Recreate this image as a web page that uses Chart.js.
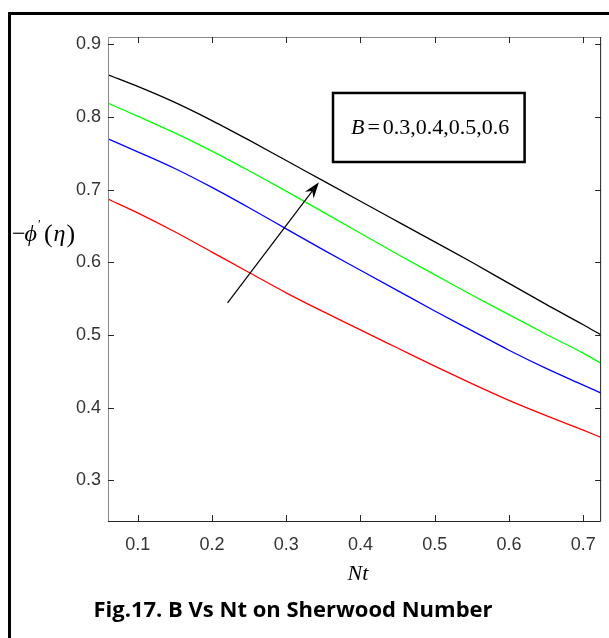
<!DOCTYPE html>
<html>
<head>
<meta charset="utf-8">
<script src="https://cdn.jsdelivr.net/npm/chart.js@4/dist/chart.umd.min.js"></script>
<style>
  html, body { margin: 0; padding: 0; background: #fff; }
  #wrap { width: 609px; height: 638px; }
</style>
</head>
<body>
<div id="wrap"><canvas id="sherwoodChart" width="609" height="638"></canvas></div>
<script>
// Nt values along the x axis
const ntValues = [0.06, 0.1, 0.15, 0.2, 0.25, 0.3, 0.35, 0.4, 0.45, 0.5, 0.55, 0.6, 0.65, 0.7, 0.724];

// -phi'(eta) for B = 0.3, 0.4, 0.5, 0.6
const seriesB03 = [0.687, 0.668, 0.642, 0.614, 0.586, 0.558, 0.532, 0.507, 0.482, 0.457, 0.433, 0.410, 0.389, 0.369, 0.359];
const seriesB04 = [0.770, 0.752, 0.729, 0.703, 0.675, 0.646, 0.617, 0.589, 0.561, 0.533, 0.506, 0.479, 0.454, 0.431, 0.420];
const seriesB05 = [0.819, 0.801, 0.778, 0.753, 0.726, 0.698, 0.669, 0.640, 0.611, 0.583, 0.555, 0.528, 0.501, 0.475, 0.461];
const seriesB06 = [0.858, 0.842, 0.820, 0.795, 0.768, 0.740, 0.712, 0.684, 0.656, 0.628, 0.600, 0.571, 0.542, 0.514, 0.500];

const seriesNames = ['B = 0.3', 'B = 0.4', 'B = 0.5', 'B = 0.6'];
const seriesColors = ['#ff0000', '#0000ff', '#00ff00', '#000000'];

const xTicks = [0.1, 0.2, 0.3, 0.4, 0.5, 0.6, 0.7];
const yTicks = [0.3, 0.4, 0.5, 0.6, 0.7, 0.8, 0.9];

function toPoints(ys) {
    return ntValues.map((x, i) => ({ x: x, y: ys[i] }));
}

const allSeries = [seriesB03, seriesB04, seriesB05, seriesB06];

// box, inward ticks, annotation box, arrow, labels, caption, frame
const decorations = {
    id: 'decorations',
    afterDatasetsDraw(chart) {
        const c = chart.ctx;
        const a = chart.chartArea;
        const xs = chart.scales.x;
        const ys = chart.scales.y;
        c.save();

        // axes box
        c.lineWidth = 1;
        c.strokeStyle = '#8a8a8a';
        c.beginPath();
        c.moveTo(a.left + 0.5, a.bottom);
        c.lineTo(a.left + 0.5, a.top + 0.5);
        c.lineTo(a.right, a.top + 0.5);
        c.stroke();
        c.strokeStyle = '#262626';
        c.beginPath();
        c.moveTo(a.left, a.bottom + 0.5);
        c.lineTo(a.right - 0.5, a.bottom + 0.5);
        c.lineTo(a.right - 0.5, a.top);
        c.stroke();

        // inward ticks
        c.strokeStyle = '#262626';
        c.beginPath();
        xTicks.forEach(v => {
            const px = Math.round(xs.getPixelForValue(v)) + 0.5;
            c.moveTo(px, a.bottom);
            c.lineTo(px, a.bottom - 6);
            c.moveTo(px, a.top);
            c.lineTo(px, a.top + 6);
        });
        yTicks.forEach(v => {
            const py = Math.round(ys.getPixelForValue(v)) + 0.5;
            c.moveTo(a.left, py);
            c.lineTo(a.left + 6, py);
            c.moveTo(a.right, py);
            c.lineTo(a.right - 6, py);
        });
        c.stroke();

        const serif = '"Liberation Serif", "Times New Roman", serif';

        // annotation box
        const bx1 = xs.getPixelForValue(0.363), bx2 = xs.getPixelForValue(0.621);
        const by1 = ys.getPixelForValue(0.833), by2 = ys.getPixelForValue(0.738);
        c.fillStyle = '#fff';
        c.fillRect(bx1, by1, bx2 - bx1, by2 - by1);
        c.lineWidth = 2.5;
        c.strokeStyle = '#000';
        c.strokeRect(bx1, by1, bx2 - bx1, by2 - by1);

        c.fillStyle = '#000';
        c.textBaseline = 'middle';
        c.textAlign = 'left';
        let tx = bx1 + 18;
        const ty = (by1 + by2) / 2 + 1;
        c.font = 'italic 22px ' + serif;
        c.fillText('B', tx, ty);
        tx += c.measureText('B').width + 3;
        c.font = '22px ' + serif;
        c.fillText('=', tx, ty);
        tx += c.measureText('=').width + 3;
        c.fillText('0.3,0.4,0.5,0.6', tx, ty);

        // arrow
        const ax1 = xs.getPixelForValue(0.221), ay1 = ys.getPixelForValue(0.544);
        const ax2 = xs.getPixelForValue(0.344), ay2 = ys.getPixelForValue(0.710);
        const ang = Math.atan2(ay2 - ay1, ax2 - ax1);
        c.lineWidth = 1.2;
        c.beginPath();
        c.moveTo(ax1, ay1);
        c.lineTo(ax2 - 8 * Math.cos(ang), ay2 - 8 * Math.sin(ang));
        c.stroke();
        c.beginPath();
        c.moveTo(ax2, ay2);
        c.lineTo(ax2 - 16 * Math.cos(ang) + 5.5 * Math.sin(ang), ay2 - 16 * Math.sin(ang) - 5.5 * Math.cos(ang));
        c.lineTo(ax2 - 11 * Math.cos(ang), ay2 - 11 * Math.sin(ang));
        c.lineTo(ax2 - 16 * Math.cos(ang) - 5.5 * Math.sin(ang), ay2 - 16 * Math.sin(ang) + 5.5 * Math.cos(ang));
        c.closePath();
        c.fill();

        // y label  -phi'(eta)
        let lx = 12;
        const ly = 235;
        c.font = '24px ' + serif;
        c.fillText('\u2212', lx, ly);
        lx += c.measureText('\u2212').width - 1;
        c.font = 'italic 24px ' + serif;
        c.fillText('\u03d5', lx, ly);
        lx += c.measureText('\u03d5').width + 1;
        c.font = '13px ' + serif;
        c.fillText('\u2032', lx, ly - 10);
        lx += 6;
        c.font = '26px ' + serif;
        c.fillText('(', lx, ly);
        lx += c.measureText('(').width + 1;
        c.font = 'italic 24px ' + serif;
        c.fillText('\u03b7', lx, ly);
        lx += c.measureText('\u03b7').width + 1;
        c.font = '26px ' + serif;
        c.fillText(')', lx, ly);

        // x label
        c.textAlign = 'center';
        c.font = 'italic 22px ' + serif;
        c.fillText('Nt', 358, 574);

        // caption
        c.font = 'bold 22px "Open Sans", "Liberation Sans", sans-serif';
        c.fillText('Fig.17. B Vs Nt on Sherwood Number', 293, 611);

        // outer frame
        c.fillStyle = '#000';
        c.fillRect(8, 12, 601, 3);
        c.fillRect(8, 12, 3, 626);

        c.restore();
    }
};

const ctx = document.getElementById('sherwoodChart');

new Chart(ctx, {
    type: 'line',
    data: {
        datasets: allSeries.map((s, i) => ({
            label: seriesNames[i],
            data: toPoints(s),
            borderColor: seriesColors[i],
            borderWidth: 1.3,
            pointRadius: 0,
            cubicInterpolationMode: 'monotone',
            fill: false
        }))
    },
    options: {
        responsive: false,
        animation: false,
        layout: {
            padding: { left: 0, top: 37, right: 6, bottom: 0 }
        },
        plugins: {
            legend: { display: false },
            tooltip: { enabled: false }
        },
        scales: {
            x: {
                type: 'linear',
                min: 0.06,
                max: 0.724,
                afterFit: (scale) => { scale.height = 117; },
                afterBuildTicks: (scale) => { scale.ticks = xTicks.map(v => ({ value: v })); },
                grid: { display: false, drawTicks: false },
                border: { display: false },
                ticks: {
                    padding: 13,
                    color: '#333',
                    font: { family: '"Liberation Sans", Arial, sans-serif', size: 18 },
                    callback: (v) => v.toFixed(1)
                }
            },
            y: {
                type: 'linear',
                min: 0.244,
                max: 0.91,
                afterFit: (scale) => { scale.width = 108; },
                afterBuildTicks: (scale) => { scale.ticks = yTicks.map(v => ({ value: v })); },
                grid: { display: false, drawTicks: false },
                border: { display: false },
                ticks: {
                    padding: 7,
                    color: '#333',
                    font: { family: '"Liberation Sans", Arial, sans-serif', size: 18 },
                    callback: (v) => v.toFixed(1)
                }
            }
        }
    },
    plugins: [decorations]
});
</script>
</body>
</html>
